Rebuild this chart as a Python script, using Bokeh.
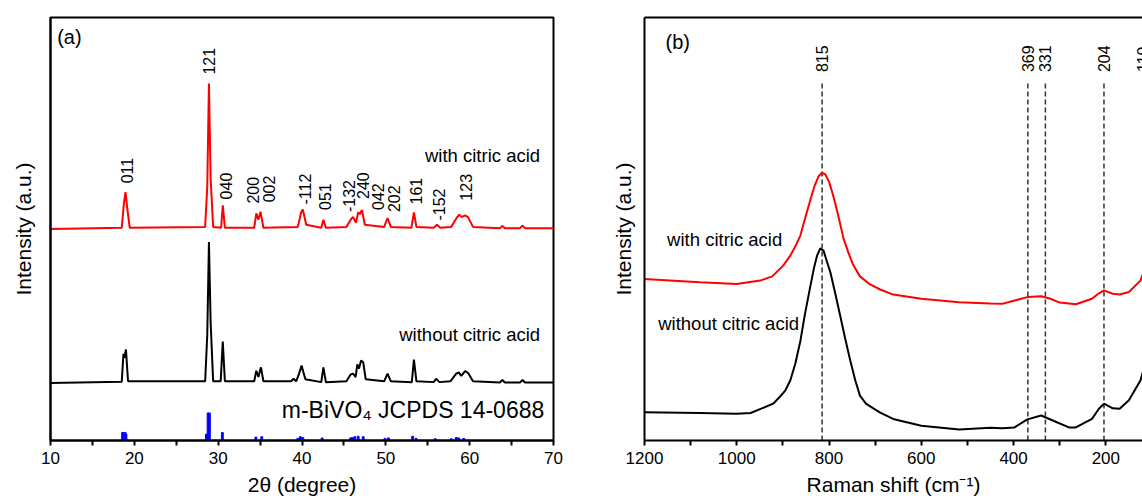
import numpy as np
from bokeh.plotting import figure
from bokeh.layouts import row
from bokeh.models import Range1d, FixedTicker, LinearAxis
from bokeh.embed import file_html
from bokeh.resources import INLINE
from bokeh.core.properties import value

FONT = "Liberation Sans"

# ---------------- (a) XRD data ----------------
xrd_red_x = [10, 18.5, 18.75, 18.95, 19.15, 19.45, 28.45, 28.7, 28.9, 29.1, 29.4,
             30.35, 30.55, 30.8, 34.3, 34.55, 34.8, 35.05, 35.4, 39.5, 39.9, 40.1, 40.5,
             42.3, 42.55, 42.85, 45.3, 45.9, 46.1, 46.45, 46.7, 46.9, 47.15, 47.5,
             49.8, 50.2, 50.6, 53.05, 53.35, 53.65, 55.7, 56.1, 56.5,
             57.8, 58.4, 58.75, 59.05, 59.45, 59.8, 60.4, 63.6, 63.9, 64.2, 66.0, 66.3, 66.6, 70]
xrd_red_y = [50, 50.3, 56, 58.7, 55, 50.3, 50.5, 60, 84.4, 62, 50.5,
             50.3, 55.6, 50.3, 50.3, 53.7, 52.2, 54.1, 50.3, 50.5, 54, 54.6, 51,
             50.3, 52.2, 50.3, 50.5, 52.5, 52.8, 51.5, 54, 53.5, 54.5, 51,
             50.5, 52.6, 50.5, 50.3, 53.9, 50.5, 50.3, 51, 50.3,
             50.5, 52.5, 53.4, 52.8, 53.2, 52.8, 50.5, 50.2, 50.7, 50.2, 50.2, 50.8, 50.2, 50.2]

xrd_black_x = [10, 18.5, 18.7, 18.8, 19.0, 19.25, 28.45, 28.7, 28.9, 29.1, 29.4,
               30.3, 30.55, 30.8, 34.3, 34.55, 34.8, 35.1, 35.4, 38.7, 39.0, 39.3, 39.6, 39.95, 40.4,
               42.3, 42.55, 42.85, 45.3, 45.8, 46.1, 46.4, 46.6, 46.8, 47.05, 47.3, 47.6,
               49.8, 50.2, 50.6, 53.1, 53.35, 53.65, 55.7, 56.0, 56.4,
               57.7, 58.4, 58.7, 59.0, 59.45, 59.8, 60.4, 63.6, 63.9, 64.2, 66.0, 66.3, 66.6, 70]
xrd_black_y = [13.6, 13.9, 20.5, 19.5, 21.5, 14, 14, 25, 46.9, 28, 14,
               14, 23.4, 14, 14, 16.5, 15, 17.3, 14, 14, 14.6, 14, 15.5, 17.7, 14.5,
               13.8, 17.3, 13.8, 14, 15.6, 15.8, 15, 18, 17, 18.9, 18.5, 14.5,
               14, 15.8, 14, 13.8, 19.1, 14, 13.8, 14.6, 13.8,
               14, 15.8, 16.1, 15.3, 16.4, 16, 14, 13.7, 14.3, 13.7, 13.7, 14.3, 13.7, 13.7]

jcpds_x = [18.6, 18.9, 19.0, 28.6, 28.8, 28.95, 30.5, 34.5, 35.2, 39.5, 39.8, 40.1, 42.4,
           45.8, 46.0, 46.3, 46.7, 47.3, 49.9, 50.3, 53.2, 53.6, 55.9, 57.8, 58.4, 58.7, 59.3]
jcpds_h = [1.9, 1.9, 1.5, 1.5, 6.5, 6.5, 1.9, 0.8, 0.9, 0.5, 0.9, 0.7, 0.6,
           0.6, 0.7, 0.9, 1.0, 0.9, 0.5, 0.6, 1.0, 0.5, 0.4, 0.4, 0.7, 0.6, 0.5]

hkl_labels = ["011", "121", "040", "200", "002", "-112", "051", "-132", "240",
              "042", "202", "161", "-152", "123"]
hkl_x = [19.15, 28.9, 30.9, 34.1, 36.05, 40.3, 42.7, 45.6, 47.3, 49.1, 51.0, 53.6, 56.3, 59.6]
hkl_y = [60.8, 86.5, 57.0, 56.0, 56.3, 55.8, 54.5, 54.0, 57.1, 54.5, 54.0, 55.8, 52.0, 56.7]

# ---------------- (b) Raman data ----------------
raman_red_x = [1200, 1080, 1000, 949, 923, 899, 884, 873, 862, 852, 841, 832, 823, 815,
               808, 800, 791, 780, 769, 758, 748, 733, 711, 689, 661, 600, 518, 450, 425,
               370, 340, 320, 300, 265, 230, 215, 204, 185, 170, 150, 125, 110]
raman_red_y = [38.2, 37.4, 37.0, 37.8, 38.8, 41.4, 43.7, 45.9, 48.5, 52.5, 56.7, 60.0, 62.4, 63.3,
               62.9, 61.2, 57.9, 53.2, 47.9, 44.4, 41.6, 38.8, 36.9, 35.7, 34.5, 33.5, 32.7, 32.4, 32.3,
               33.9, 34.1, 33.5, 32.6, 32.2, 33.5, 34.8, 35.5, 34.7, 34.5, 35.1, 37.8, 42]
raman_black_x = [1200, 1080, 1000, 970, 921, 906, 895, 884, 873, 862, 852, 841, 832, 826, 819,
                 812, 806, 797, 787, 776, 765, 754, 743, 733, 720, 704, 689, 661,
                 600, 518, 450, 425, 398, 370, 340, 310, 280, 265, 230, 215,
                 204, 185, 170, 150, 125, 110]
raman_black_y = [6.7, 6.5, 6.3, 6.5, 8.7, 10.4, 11.8, 14.2, 18.2, 23.6, 30.0, 36.2, 41.1, 43.7, 45.4,
                 44.9, 42.8, 39.7, 35.0, 29.6, 24.1, 18.9, 14.2, 10.6, 8.7, 7.6, 6.6, 5.1,
                 3.5, 2.6, 3.0, 2.9, 3.1, 5.0, 5.9, 4.5, 3.1, 3.1, 5.1, 7.5,
                 8.7, 7.6, 7.5, 9.5, 14.2, 20]
raman_peaks = [815, 369, 331, 204, 119]
raman_peak_labels = ["815", "369", "331", "204", "119"]


def style_x(ax):
    ax.axis_line_width = 2
    ax.axis_line_color = "black"
    ax.major_tick_out = 5
    ax.major_tick_in = 0
    ax.minor_tick_out = 5
    ax.minor_tick_in = 0
    ax.major_tick_line_width = 2
    ax.minor_tick_line_width = 2
    ax.major_label_text_font = FONT
    ax.major_label_text_font_size = "17px"
    ax.major_label_text_color = "black"
    ax.major_label_standoff = 6
    ax.axis_label_text_font = FONT
    ax.axis_label_text_font_size = "21px"
    ax.axis_label_text_font_style = "normal"
    ax.axis_label_text_color = "black"
    ax.axis_label_standoff = 6


def style_y(ax):
    ax.ticker = FixedTicker(ticks=[])
    ax.axis_line_width = 2
    ax.axis_line_color = "black"
    ax.major_tick_out = 0
    ax.major_tick_in = 0
    ax.major_label_standoff = 0
    ax.axis_label_text_font = FONT
    ax.axis_label_text_font_size = "21px"
    ax.axis_label_text_font_style = "normal"
    ax.axis_label_text_color = "black"


# ---------------- panel (a) ----------------
p1 = figure(width=600, height=500, x_range=Range1d(10, 70), y_range=Range1d(0, 100),
            output_backend="svg", toolbar_location=None, title=None,
            min_border_left=50, min_border_right=47, min_border_top=17, min_border_bottom=60)
p1.grid.visible = False
p1.outline_line_color = "black"
p1.outline_line_width = 2
xa1 = p1.below[0]
ya1 = p1.left[0]
style_x(xa1)
style_y(ya1)
xa1.axis_label = "2θ (degree)"
xa1.ticker = FixedTicker(ticks=[10, 20, 30, 40, 50, 60, 70],
                         minor_ticks=[15, 25, 35, 45, 55, 65])
ya1.axis_label = "Intensity (a.u.)"
ya1.axis_label_standoff = 16

p1.vbar(x=jcpds_x, top=jcpds_h, bottom=0, width=0.22, color="#0000ff")
p1.line(xrd_black_x, xrd_black_y, line_color="black", line_width=2)
p1.line(xrd_red_x, xrd_red_y, line_color="#ff0000", line_width=2)
p1.text(x=hkl_x, y=hkl_y, text=hkl_labels, angle=np.pi / 2, text_align="left",
        text_baseline="middle", text_font=value(FONT), text_font_size="16px", text_color="black")
p1.text(x=[68.4, 68.4], y=[67.4, 25.0], text=["with citric acid", "without citric acid"],
        text_align="right", text_baseline="middle", text_font=value(FONT),
        text_font_size="18.5px", text_color="black")
p1.text(x=[68.9], y=[7.1], text=["m-BiVO₄ JCPDS 14-0688"], text_align="right",
        text_baseline="middle", text_font=value(FONT), text_font_size="23px", text_color="black")
p1.text(x=[10.8], y=[95.3], text=["(a)"], text_align="left", text_baseline="middle",
        text_font=value(FONT), text_font_size="20px", text_color="black")

# ---------------- panel (b) ----------------
p2 = figure(width=542, height=500, x_range=Range1d(1200, 120.5), y_range=Range1d(0, 100),
            output_backend="svg", toolbar_location=None, title=None,
            min_border_left=44, min_border_right=0, min_border_top=17, min_border_bottom=60)
p2.grid.visible = False
p2.outline_line_color = None
xa2 = p2.below[0]
ya2 = p2.left[0]
style_x(xa2)
style_y(ya2)
xa2.axis_label = "Raman shift (cm⁻¹)"
xa2.ticker = FixedTicker(ticks=[1200, 1000, 800, 600, 400, 200],
                         minor_ticks=[1100, 900, 700, 500, 300])
ya2.axis_label = "Intensity (a.u.)"
ya2.axis_label_standoff = 10
top_axis = LinearAxis(ticker=FixedTicker(ticks=[]), axis_line_width=2, axis_line_color="black",
                      major_tick_out=0, major_tick_in=0, minor_tick_out=0, minor_tick_in=0,
                      major_label_standoff=0, major_label_text_font_size="0px")
p2.add_layout(top_axis, "above")

p2.segment(x0=raman_peaks, y0=[0] * len(raman_peaks), x1=raman_peaks, y1=[85] * len(raman_peaks),
           line_color="#333333", line_width=1.5, line_dash="5 3")
p2.line(raman_black_x, raman_black_y, line_color="black", line_width=2)
p2.line(raman_red_x, raman_red_y, line_color="#ff0000", line_width=2)
p2.text(x=raman_peaks, y=[87.1] * len(raman_peaks), text=raman_peak_labels, angle=np.pi / 2,
        text_align="left", text_baseline="middle", text_font=value(FONT),
        text_font_size="16px", text_color="black")
p2.text(x=[1151, 1170.3], y=[47.5, 27.7], text=["with citric acid", "without citric acid"],
        text_align="left", text_baseline="middle", text_font=value(FONT),
        text_font_size="18.5px", text_color="black")
p2.text(x=[1154.5], y=[94.2], text=["(b)"], text_align="left", text_baseline="middle",
        text_font=value(FONT), text_font_size="20px", text_color="black")

layout = row(p1, p2)
open("out.html", "w").write(file_html(layout, INLINE))
